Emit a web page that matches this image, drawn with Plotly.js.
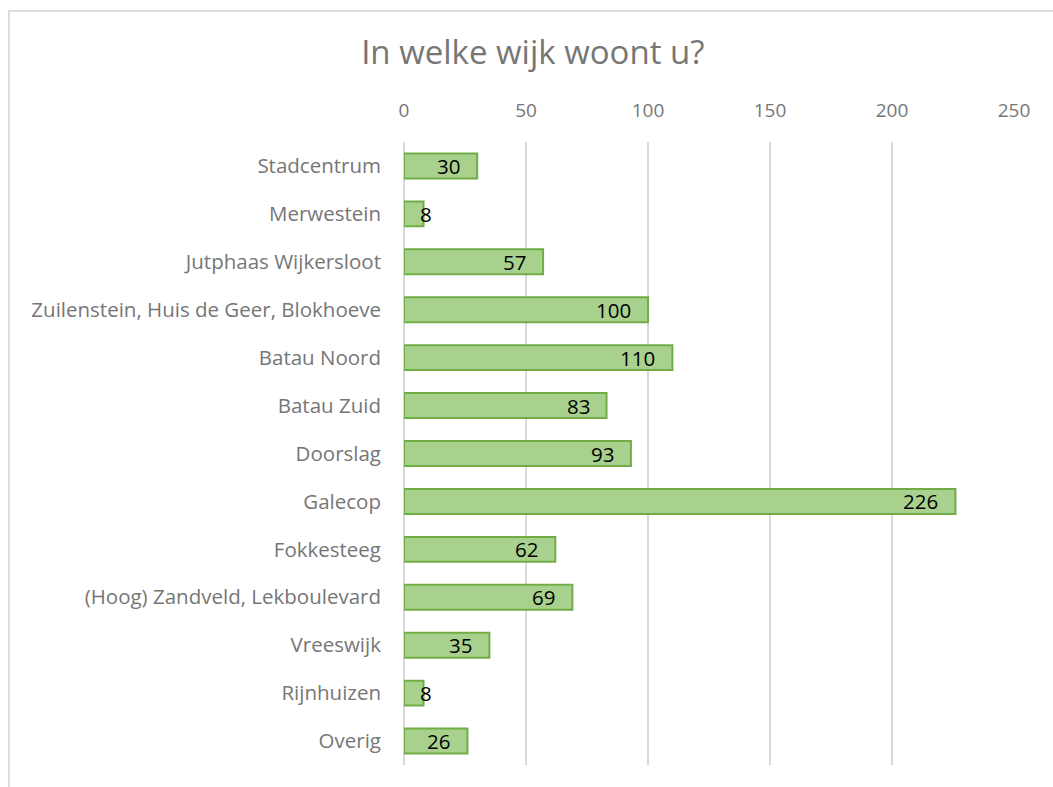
<!DOCTYPE html>
<html>
<head>
<meta charset="utf-8">
<script src="https://cdn.plot.ly/plotly-3.0.1.min.js"></script>
<style>
html,body{margin:0;padding:0;background:#fff;overflow:hidden;width:1053px;height:787px;}
#chart{width:1053px;height:787px;position:absolute;left:0;top:0;}
#frame{position:absolute;left:8px;top:10px;width:1100px;height:850px;border:2px solid #dcdcdc;box-sizing:border-box;pointer-events:none;}
</style>
</head>
<body>
<div id="chart"></div>
<div id="frame"></div>
<script>
const categories = [
  "Stadcentrum",
  "Merwestein",
  "Jutphaas Wijkersloot",
  "Zuilenstein, Huis de Geer, Blokhoeve",
  "Batau Noord",
  "Batau Zuid",
  "Doorslag",
  "Galecop",
  "Fokkesteeg",
  "(Hoog) Zandveld, Lekboulevard",
  "Vreeswijk",
  "Rijnhuizen",
  "Overig"
];
const values = [30, 8, 57, 100, 110, 83, 93, 226, 62, 69, 35, 8, 26];
const tickVals = [0, 50, 100, 150, 200, 250];

const FONT = "'Open Sans', Lato, sans-serif";

const annotations = values.map((v, i) => {
  const small = v < 15;
  return {
    x: v, y: categories[i], xref: 'x', yref: 'y',
    text: String(v), showarrow: false,
    xanchor: small ? 'center' : 'right',
    xshift: small ? 2 : -15,
    font: {family: FONT, size: 20.5, color: '#000000'}
  };
});

const trace = {
  type: 'bar', orientation: 'h',
  x: values, y: categories,
  marker: {color: '#a9d18e', line: {color: '#70ad47', width: 2}},
  hoverinfo: 'none'
};

const layout = {
  width: 1053, height: 787,
  margin: {l: 404, r: 39, t: 142, b: 22},
  paper_bgcolor: '#ffffff', plot_bgcolor: '#ffffff',
  showlegend: false,
  bargap: 0.48,
  title: {
    text: 'In welke wijk woont u?',
    font: {family: FONT, size: 33, color: '#767676'},
    xref: 'container', yref: 'container',
    x: 0.506, xanchor: 'center', y: 1 - 52/787, yanchor: 'middle'
  },
  xaxis: {
    side: 'top', range: [0, 250],
    tickvals: tickVals, ticktext: tickVals.map(String),
    showgrid: true, gridcolor: '#d9d9d9', gridwidth: 2,
    zeroline: true, zerolinecolor: '#d9d9d9', zerolinewidth: 2,
    showline: false, ticks: '',
    tickfont: {family: FONT, size: 19, color: '#767676'},
    ticklabelstandoff: 20
  },
  yaxis: {
    autorange: 'reversed', type: 'category',
    showgrid: false, zeroline: false, showline: false, ticks: '',
    tickfont: {family: FONT, size: 20.5, color: '#767676'},
    ticklabelstandoff: 22
  },
  annotations: annotations
};

Plotly.newPlot('chart', [trace], layout, {displayModeBar: false, staticPlot: true});
</script>
</body>
</html>
